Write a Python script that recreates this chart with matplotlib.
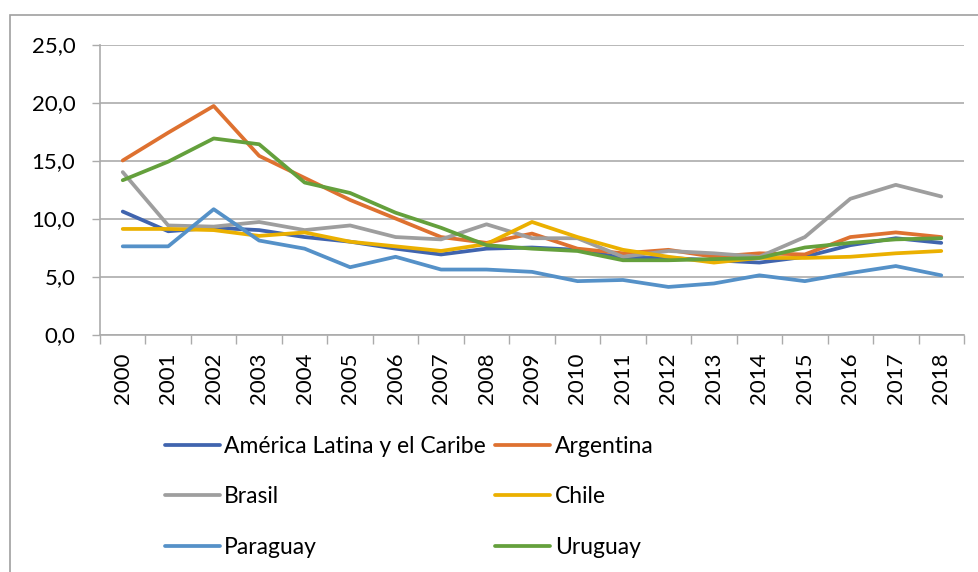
import matplotlib.pyplot as plt
from matplotlib.patches import Rectangle
import numpy as np

years = [str(y) for y in range(2000, 2019)]

alc = [10.6, 8.9, 9.2, 9.0, 8.4, 8.0, 7.4, 6.9, 7.4, 7.5, 7.3, 6.6, 6.6, 6.4, 6.2, 6.7, 7.7, 8.3, 7.9]
argentina = [15.0, 17.4, 19.7, 15.4, 13.5, 11.6, 10.0, 8.4, 7.9, 8.7, 7.4, 7.0, 7.3, 6.7, 7.0, 6.9, 8.4, 8.8, 8.4]
brasil = [14.0, 9.4, 9.3, 9.7, 9.0, 9.4, 8.4, 8.2, 9.5, 8.3, 8.3, 6.7, 7.2, 7.0, 6.7, 8.4, 11.7, 12.9, 11.9]
chile = [9.1, 9.1, 9.0, 8.5, 8.8, 8.0, 7.6, 7.2, 7.8, 9.7, 8.4, 7.3, 6.7, 6.2, 6.6, 6.6, 6.7, 7.0, 7.2]
paraguay = [7.6, 7.6, 10.8, 8.1, 7.4, 5.8, 6.7, 5.6, 5.6, 5.4, 4.6, 4.7, 4.1, 4.4, 5.1, 4.6, 5.3, 5.9, 5.1]
uruguay = [13.3, 14.9, 16.9, 16.4, 13.1, 12.2, 10.5, 9.2, 7.7, 7.4, 7.2, 6.4, 6.4, 6.5, 6.6, 7.5, 7.9, 8.2, 8.3]

series = [
    ("América Latina y el Caribe", alc, "#4064AE"),
    ("Argentina", argentina, "#DE7130"),
    ("Brasil", brasil, "#9E9E9E"),
    ("Chile", chile, "#EBB000"),
    ("Paraguay", paraguay, "#5591C8"),
    ("Uruguay", uruguay, "#64A03C"),
]

y_ticks = [0, 5, 10, 15, 20, 25]
y_labels = ["0,0", "5,0", "10,0", "15,0", "20,0", "25,0"]

plt.rcParams["font.family"] = ["Lato", "DejaVu Sans"]
grid_color = "#ABABAB"

fig = plt.figure(figsize=(9.79, 5.72), dpi=100)
ax = fig.add_axes([100 / 979, 1 - 334.5 / 572, 864 / 979, 290 / 572])

x = np.arange(len(years))
lines = []
for name, vals, color in series:
    ln, = ax.plot(x, vals, color=color, lw=2.7, label=name, solid_capstyle="round")
    lines.append(ln)

ax.set_xlim(-0.5, len(years) - 0.5)
ax.set_ylim(0, 25)
ax.set_yticks(y_ticks)
ax.set_yticklabels(y_labels, fontsize=16)
ax.yaxis.grid(True, color=grid_color, lw=1.2)
ax.set_axisbelow(True)

# tick marks between categories, labels at category centres
ax.set_xticks(np.arange(len(years) + 1) - 0.5)
ax.set_xticklabels([])
ax.set_xticks(x, minor=True)
ax.set_xticklabels(years, minor=True, rotation=90, fontsize=16)
ax.tick_params(axis="x", which="major", length=6.5, color=grid_color, width=1)
ax.tick_params(axis="x", which="minor", length=0, pad=13)
ax.tick_params(axis="y", length=5.8, color=grid_color, width=1, pad=12)

for side in ["top", "right"]:
    ax.spines[side].set_visible(False)
for side in ["left", "bottom"]:
    ax.spines[side].set_color(grid_color)
    ax.spines[side].set_linewidth(1.2)

# legend fills row by row (matplotlib fills columns), so reorder
order = [0, 2, 4, 1, 3, 5]
fig.legend([lines[i] for i in order], [lines[i].get_label() for i in order],
           loc="upper left", bbox_to_anchor=(144 / 979, 1 - 415 / 572), ncol=2,
           frameon=False, fontsize=16.5, handlelength=2.4, handletextpad=0.2,
           columnspacing=0.4, labelspacing=1.3)

fig.patches.append(Rectangle((10 / 979, -0.1), 1.1, 1.1 - 15 / 572,
                             transform=fig.transFigure, fill=False,
                             edgecolor="#A0A0A0", lw=1.2))

fig.savefig("out.png", dpi=100)
